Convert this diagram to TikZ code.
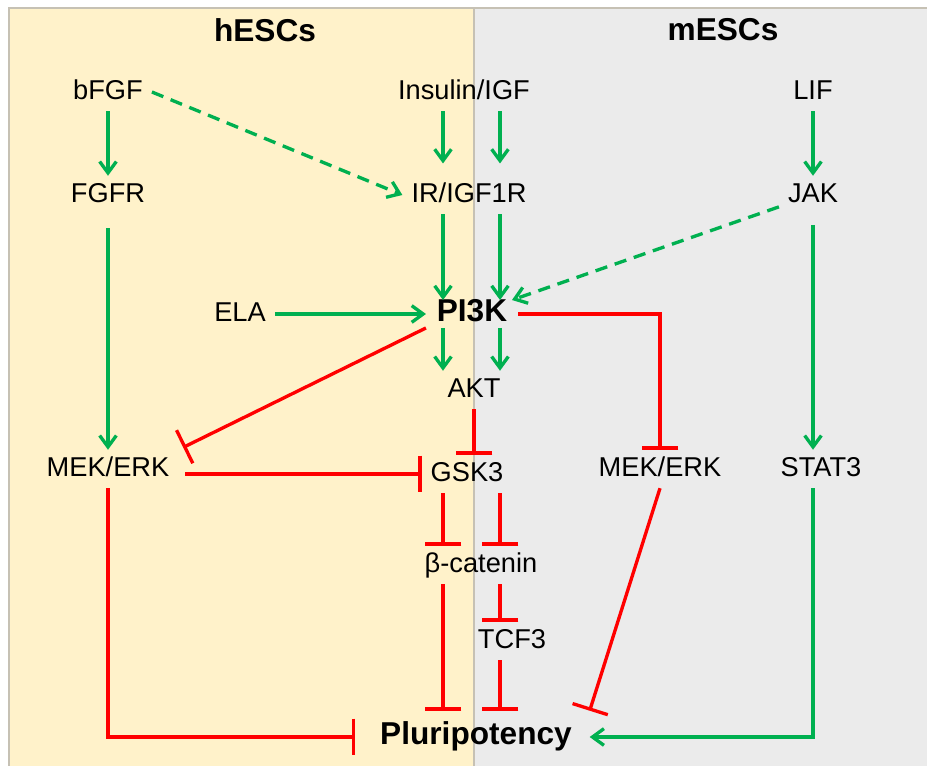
\documentclass[tikz,border=0pt]{standalone}
\usepackage{fontspec}
\setmainfont{Liberation Sans}
\definecolor{hescYellow}{HTML}{FFF2CA}
\definecolor{mescGrey}{HTML}{EBEBEB}
\definecolor{panelEdge}{HTML}{C6C1B4}
\definecolor{actGreen}{HTML}{00B050}
\definecolor{inhRed}{HTML}{FF0000}
\usepackage{tikz}
\usetikzlibrary{arrows.meta}

\begin{document}
\begin{tikzpicture}[x=0.02cm, y=-0.02cm,
    mol/.style={font=\fontsize{15.5}{18}\selectfont, text height=0.9em,
                text depth=0.05em, inner xsep=5pt, inner ysep=6pt},
    hub/.style={mol, font=\fontsize{18}{21}\selectfont\bfseries},
    panel/.style={font=\fontsize{18}{21}\selectfont\bfseries},
    act/.style={-{Straight Barb[length=6.5pt,width=9.5pt]}, line width=1.9pt, color=actGreen},
    actd/.style={act, dash pattern=on 7pt off 4.5pt},
    inh/.style={-{Bar[width=21pt]}, line width=1.9pt, color=inhRed}
]
    \useasboundingbox (0,0) rectangle (927,766);
    % two panels
    \fill[hescYellow] (9,8) rectangle (474,766);
    \fill[mescGrey] (474,8) rectangle (927,766);
    \draw[panelEdge, line width=0.8pt] (9,766) -- (9,8) -- (927,8);
    \draw[panelEdge, line width=0.8pt] (474,8) -- (474,766);

    \node[panel] (hesc) at (265,30) {hESCs};
    \node[panel] (mesc) at (723,30) {mESCs};

    \node[mol] (bfgf) at (108,92) {bFGF};
    \node[mol] (ins) at (464,92) {Insulin/IGF};
    \node[mol] (lif) at (813,92) {LIF};
    \node[mol] (fgfr) at (108,195) {FGFR};
    \node[mol] (ir) at (469,195) {IR/IGF1R};
    \node[mol] (jak) at (813,195) {JAK};
    \node[mol] (ela) at (240,314) {ELA};
    \node[hub, inner ysep=3pt, inner xsep=6pt] (pi3k) at (472,314) {PI3K};
    \node[mol] (akt) at (474,390) {AKT};
    \node[mol] (mekl) at (108,469) {MEK/ERK};
    \node[mol] (gsk3) at (467,474) {GSK3};
    \node[mol] (mekr) at (660,469) {MEK/ERK};
    \node[mol] (stat3) at (821,469) {STAT3};
    \node[mol] (bcat) at (481,565) {β-catenin};
    \node[mol] (tcf3) at (512,641) {TCF3};
    \node[hub, inner xsep=10pt, inner ysep=10pt] (pluri) at (476,737) {Pluripotency};

    % the two parallel lanes through the middle
    \coordinate (laneA) at (443,0);
    \coordinate (laneB) at (500,0);

    % activation
    \draw[act] (bfgf) -- (fgfr);
    \draw[actd] (bfgf.east) -- (ir.west);
    \draw[act, shorten >=7pt] (ins.south -| laneA) -- (ir.north -| laneA);
    \draw[act, shorten >=7pt] (ins.south -| laneB) -- (ir.north -| laneB);
    \draw[act] (lif) -- (jak);
    \draw[act] (ir.south -| laneA) -- (pi3k.north -| laneA);
    \draw[act] (ir.south -| laneB) -- (pi3k.north -| laneB);
    \draw[actd] (jak) -- (pi3k);
    \draw[act, shorten <=8pt] (fgfr) -- (mekl);
    \draw[act] (ela) -- (pi3k);
    \draw[act] (pi3k.south -| laneA) -- (akt.north -| laneA);
    \draw[act] (pi3k.south -| laneB) -- (akt.north -| laneB);
    \draw[act, shorten <=6pt] (jak) -- (jak |- stat3.north);
    \draw[act] (jak |- stat3.south) |- (pluri.east);

    % inhibition
    \draw[inh, shorten >=3pt] (pi3k.south west) -- (mekl.north east);
    \draw[inh] (pi3k.east) -| (mekr.north);
    \draw[inh] (akt.south) -- (akt.south |- gsk3.north);
    \draw[inh, shorten <=4pt] (mekl.east |- gsk3) -- (gsk3.west);
    \draw[inh] (gsk3.south -| laneA) -- (bcat.north -| laneA);
    \draw[inh] (gsk3.south -| laneB) -- (bcat.north -| laneB);
    \draw[inh] (bcat.south -| laneB) -- (tcf3.north -| laneB);
    \draw[inh] (bcat.south -| laneA) -- (pluri.north -| laneA);
    \draw[inh] (tcf3.south -| laneB) -- (pluri.north -| laneB);
    \draw[inh, shorten >=4pt] (mekl.south) |- (pluri.west);
    \draw[inh] (mekr.south) -- (pluri.north east);
\end{tikzpicture}
\end{document}
